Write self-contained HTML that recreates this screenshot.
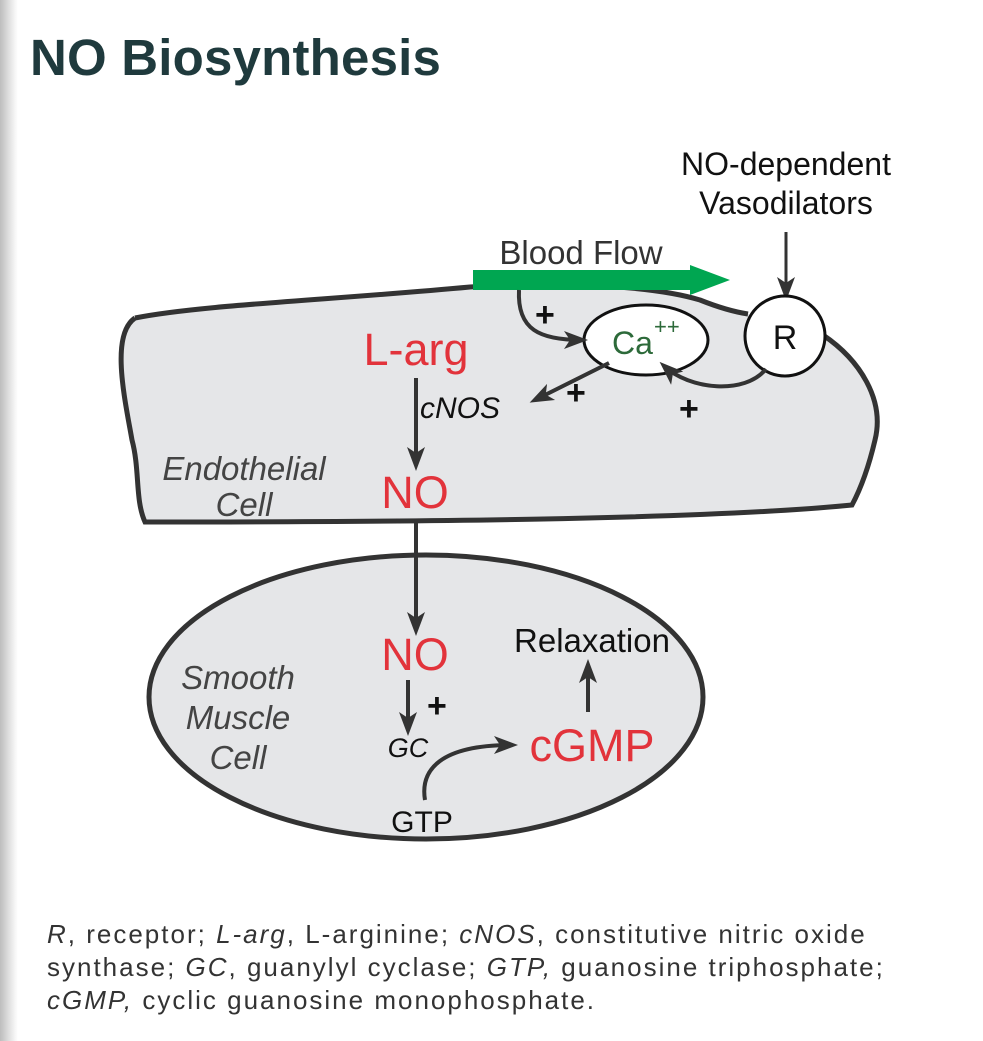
<!DOCTYPE html>
<html><head><meta charset="utf-8"><style>
html,body{margin:0;padding:0;background:#fff;}
body{width:983px;height:1041px;position:relative;overflow:hidden;font-family:"Liberation Sans",sans-serif;}
.edge{position:absolute;left:0;top:0;width:18px;height:1041px;background:linear-gradient(to right,#bdbdbd,#f4f4f4 80%,#fff);}
h1{position:absolute;left:30px;top:28px;margin:0;font-size:51px;font-weight:bold;color:#1f3a3d;letter-spacing:0.2px;}
.cap{position:absolute;left:47px;top:918px;font-size:26px;line-height:33px;color:#333;white-space:nowrap;letter-spacing:2px;}
</style></head><body>
<div class="edge"></div>
<h1>NO Biosynthesis</h1>
<svg width="983" height="1041" style="position:absolute;left:0;top:0" font-family="Liberation Sans, sans-serif">
<defs>
<marker id="b" markerWidth="24" markerHeight="24" refX="18" refY="12" orient="auto" markerUnits="userSpaceOnUse" viewBox="0 0 24 24"><path d="M0,3 L24,12 L0,21 L6,12z" fill="#333"/></marker></defs>
<path d="M135,318 C200,305 330,300 470,287 C530,283 640,282 700,300 C720,308 735,312 748,314 L823,335 C860,360 885,400 875,440 C868,470 860,490 852,505 C700,520 400,522 145,522 C135,500 140,470 132,440 C125,400 110,335 135,318 Z" fill="#e5e6e8" stroke="none"/>
<path d="M135,318 C200,305 330,300 470,287 C530,283 640,282 700,300 C720,308 735,312 748,314 M823,335 C860,360 885,400 875,440 C868,470 860,490 852,505 C700,520 400,522 145,522 C135,500 140,470 132,440 C125,400 110,335 135,318" fill="none" stroke="#333" stroke-width="5"/>
<ellipse cx="426" cy="697" rx="277" ry="142" fill="#e5e6e8" stroke="#333" stroke-width="5"/>
<path d="M473,270 L690,270 L690,265 L730,280 L690,295 L690,290 L473,290Z" fill="#00a651"/>
<text x="581" y="264" font-size="33" fill="#333" text-anchor="middle">Blood Flow</text>
<text x="786" y="175" font-size="32" fill="#111" text-anchor="middle">NO-dependent</text>
<text x="786" y="214" font-size="32" fill="#111" text-anchor="middle">Vasodilators</text>
<line x1="786" y1="232" x2="786" y2="295" stroke="#333" stroke-width="3" marker-end="url(#b)"/>
<ellipse cx="646" cy="340" rx="62" ry="35" fill="#fff" stroke="#111" stroke-width="3"/>
<text x="612" y="354" font-size="32" fill="#2d6a3a">Ca</text><text x="654" y="334" font-size="22" fill="#2d6a3a">++</text>
<ellipse cx="785" cy="336" rx="40" ry="40" fill="#fff" stroke="#111" stroke-width="3"/>
<text x="785" y="349" font-size="34" fill="#111" text-anchor="middle">R</text>
<path d="M519,290 C517,330 540,340 582,340" fill="none" stroke="#333" stroke-width="4" marker-end="url(#b)"/>
<path d="M766,369 C745,395 690,390 664,366" fill="none" stroke="#333" stroke-width="4" marker-end="url(#b)"/>
<line x1="609" y1="363" x2="535" y2="400" stroke="#333" stroke-width="4" marker-end="url(#b)"/>
<g font-size="34" font-weight="bold" fill="#111"><text x="535" y="326">+</text><text x="566" y="404">+</text><text x="679" y="420">+</text><text x="427" y="717">+</text></g>
<text x="416" y="365" font-size="45" fill="#e2333b" text-anchor="middle">L-arg</text>
<text x="420" y="418" font-size="30" font-style="italic" fill="#111">cNOS</text>
<line x1="416" y1="378" x2="416" y2="465" stroke="#333" stroke-width="4" marker-end="url(#b)"/>
<text x="415" y="508" font-size="45" fill="#e2333b" text-anchor="middle">NO</text>
<text x="244" y="480" font-size="33" font-style="italic" fill="#444" text-anchor="middle">Endothelial</text>
<text x="244" y="516" font-size="33" font-style="italic" fill="#444" text-anchor="middle">Cell</text>
<line x1="416" y1="522" x2="416" y2="630" stroke="#333" stroke-width="4" marker-end="url(#b)"/>
<text x="415" y="670" font-size="45" fill="#e2333b" text-anchor="middle">NO</text>
<line x1="408" y1="680" x2="408" y2="730" stroke="#333" stroke-width="4" marker-end="url(#b)"/>
<text x="408" y="757" font-size="27" font-style="italic" fill="#111" text-anchor="middle">GC</text>
<text x="238" y="689" font-size="33" font-style="italic" fill="#444" text-anchor="middle">Smooth</text>
<text x="238" y="729" font-size="33" font-style="italic" fill="#444" text-anchor="middle">Muscle</text>
<text x="238" y="769" font-size="33" font-style="italic" fill="#444" text-anchor="middle">Cell</text>
<text x="592" y="652" font-size="33" fill="#111" text-anchor="middle">Relaxation</text>
<line x1="588" y1="712" x2="588" y2="665" stroke="#333" stroke-width="4" marker-end="url(#b)"/>
<text x="592" y="761" font-size="45" fill="#e2333b" text-anchor="middle">cGMP</text>
<path d="M425,800 C420,770 440,745 512,745" fill="none" stroke="#333" stroke-width="4" marker-end="url(#b)"/>
<text x="422" y="832" font-size="30" fill="#111" text-anchor="middle">GTP</text>
</svg>
<div class="cap"><i>R</i>, receptor; <i>L-arg</i>, L-arginine; <i>cNOS</i>, constitutive nitric oxide<br>synthase; <i>GC</i>, guanylyl cyclase; <i>GTP,</i> guanosine triphosphate;<br><i>cGMP,</i> cyclic guanosine monophosphate.</div>
</body></html>
